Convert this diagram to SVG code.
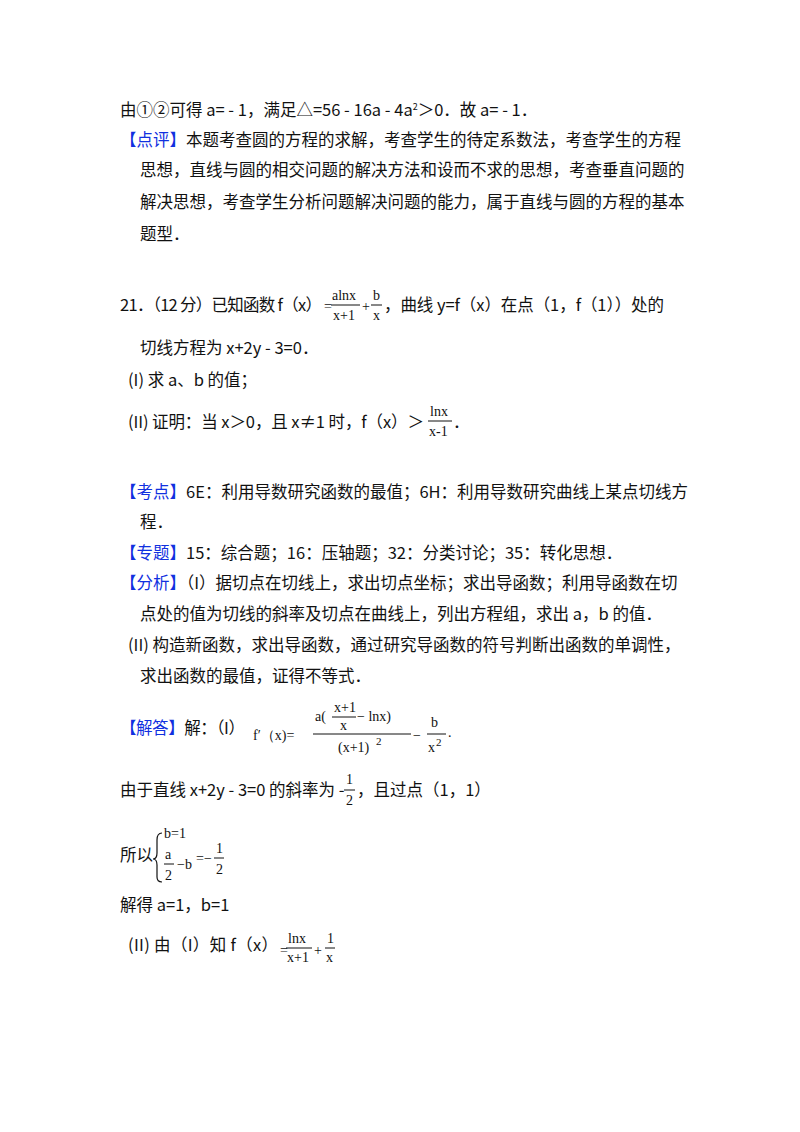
<svg xmlns="http://www.w3.org/2000/svg" width="800" height="1132" viewBox="0 0 800 1132">
<style>
text{font-family:"Noto Sans CJK SC","Noto Sans",sans-serif;font-size:16.5px;fill:#111}
.b{fill:#1030e0}
.m{font-family:"Liberation Serif",serif;font-size:14px}
.ms{font-family:"Liberation Serif",serif;font-size:11px}
line{stroke:#111;stroke-width:1}
</style>
<rect width="800" height="1132" fill="#fff"/>
<g id="text">
<text x="120" y="116">由①②可得 a= - 1，满足△=56 - 16a - 4a<tspan font-size="9" dy="-6">2</tspan><tspan dy="6">＞0．故 a= - 1．</tspan></text>
<text x="120" y="146"><tspan class="b">【点评】</tspan>本题考查圆的方程的求解，考查学生的待定系数法，考查学生的方程</text>
<text x="140" y="176">思想，直线与圆的相交问题的解决方法和设而不求的思想，考查垂直问题的</text>
<text x="140" y="208">解决思想，考查学生分析问题解决问题的能力，属于直线与圆的方程的基本</text>
<text x="140" y="240">题型．</text>

<text x="120" y="311" textLength="202" lengthAdjust="spacing">21．（12 分）已知函数 f（x）</text>
<text class="m" x="324" y="311">=</text>
<text class="m" x="332" y="300">alnx</text><line x1="331" y1="305" x2="360" y2="305"/><text class="m" x="333" y="320">x+1</text>
<text class="m" x="362" y="311">+</text>
<text class="m" x="373" y="300">b</text><line x1="371" y1="305" x2="382" y2="305"/><text class="m" x="373" y="320">x</text>
<text x="384" y="311" textLength="280" lengthAdjust="spacing">，曲线 y=f（x）在点（1，f（1））处的</text>
<text x="140" y="354">切线方程为 x+2y - 3=0．</text>
<text x="128" y="386">(I) 求 a、b 的值；</text>
<text x="128" y="428" textLength="296" lengthAdjust="spacing">(II) 证明：当 x＞0，且 x≠1 时，f（x）＞</text>
<text class="m" x="430" y="416">lnx</text><line x1="428" y1="421" x2="452" y2="421"/><text class="m" x="429" y="436">x-1</text>
<text x="453" y="428">．</text>

<text x="120" y="498"><tspan class="b">【考点】</tspan>6E：利用导数研究函数的最值；6H：利用导数研究曲线上某点切线方</text>
<text x="140" y="528">程．</text>
<text x="120" y="559"><tspan class="b">【专题】</tspan>15：综合题；16：压轴题；32：分类讨论；35：转化思想．</text>
<text x="120" y="589"><tspan class="b">【分析】</tspan>（I）据切点在切线上，求出切点坐标；求出导函数；利用导函数在切</text>
<text x="140" y="620">点处的值为切线的斜率及切点在曲线上，列出方程组，求出 a，b 的值．</text>
<text x="128" y="651">(II) 构造新函数，求出导函数，通过研究导函数的符号判断出函数的单调性，</text>
<text x="140" y="682">求出函数的最值，证得不等式．</text>

<text x="120" y="734" textLength="125" lengthAdjust="spacing"><tspan class="b">【解答】</tspan>解：（I）</text>
<text class="m" x="253" y="740" font-size="15">f′（x)=</text>
<text class="m" x="315" y="721">a(</text><text class="m" x="334" y="712">x+1</text><line x1="332" y1="717" x2="356" y2="717"/><text class="m" x="340" y="730">x</text><text class="m" x="357" y="721">− lnx)</text>
<line x1="313" y1="734" x2="411" y2="734"/>
<text class="m" x="338" y="752">(x+1)</text><text class="ms" x="376" y="745">2</text>
<text class="m" x="413" y="740">−</text>
<text class="m" x="431" y="727">b</text><line x1="427" y1="734" x2="446" y2="734"/><text class="m" x="428" y="752">x</text><text class="ms" x="436" y="746">2</text>
<text class="m" x="448" y="737">.</text>

<text x="120" y="796">由于直线 x+2y - 3=0 的斜率为 -</text>
<text class="m" x="346" y="784" font-size="15">1</text><line x1="344" y1="790" x2="355" y2="790"/><text class="m" x="346" y="805" font-size="15">2</text>
<text x="357" y="796">，且过点（1，1）</text>

<text x="120" y="861">所以</text>
<path d="M162,833 Q157,833 157,840 L157,853 Q157,859 153,859 Q157,859 157,865 L157,877 Q157,882 162,882" fill="none" stroke="#111" stroke-width="1.2"/>
<text class="m" x="164" y="838" font-size="15">b=1</text>
<text class="m" x="165" y="859" font-size="15">a</text><line x1="164" y1="864" x2="174" y2="864"/><text class="m" x="165" y="880" font-size="15">2</text>
<text class="m" x="177" y="869" font-size="15">−b</text>
<text class="m" x="196" y="863" font-size="15">=−</text>
<text class="m" x="216" y="853" font-size="15">1</text><line x1="214" y1="858" x2="224" y2="858"/><text class="m" x="216" y="874" font-size="15">2</text>

<text x="120" y="911">解得 a=1，b=1</text>
<text x="128" y="951" textLength="150" lengthAdjust="spacing">(II) 由（I）知 f（x）</text>
<text class="m" x="280" y="955">=</text>
<text class="m" x="288" y="943">lnx</text><line x1="286" y1="948" x2="312" y2="948"/><text class="m" x="287" y="962">x+1</text>
<text class="m" x="314" y="955">+</text>
<text class="m" x="327" y="943">1</text><line x1="325" y1="948" x2="335" y2="948"/><text class="m" x="326" y="962">x</text>
</g>
</svg>
